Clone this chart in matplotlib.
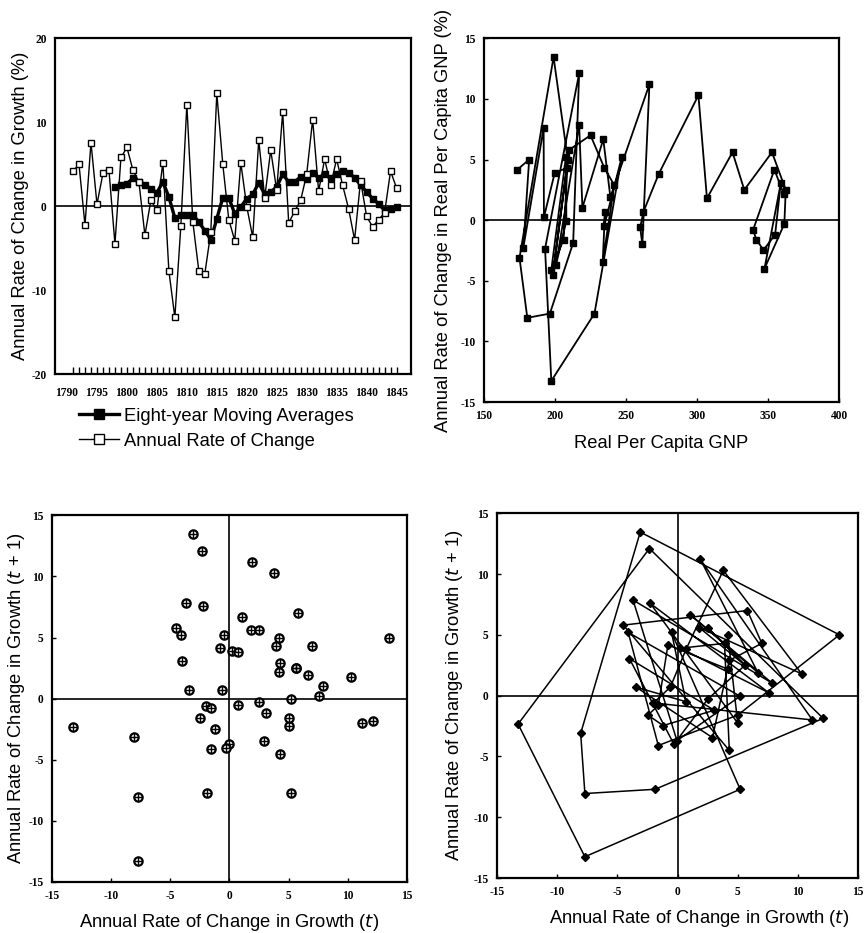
import matplotlib
matplotlib.use("Agg")
import matplotlib.pyplot as plt
from matplotlib.lines import Line2D
from matplotlib.font_manager import FontProperties

# ---------------- data ----------------
years = list(range(1791, 1846))
annual_rate = [4.17, 5.0, -2.26, 7.58, 0.24, 3.9, 4.3, -4.5, 5.8, 7.0,
               4.3, 2.9, -3.45, 0.7, -0.5, 5.2, -7.7, -13.25, -2.34, 12.1,
               -1.87, -7.7, -8.05, -3.1, 13.45, 5.0, -1.6, -4.1, 5.2, -0.05,
               -3.7, 7.86, 1.03, 6.67, 1.9, 11.2, -2.0, -0.6, 0.7, 3.8,
               10.3, 1.8, 5.6, 2.5, 5.6, 2.5, -0.3, -4.0, 3.05, -1.2,
               -2.46, -1.6, -0.8, 4.17, 2.18]

ma_years = list(range(1798, 1846))
moving_avg = [2.3, 2.5, 2.7, 3.3, 2.9, 2.5, 2.1, 1.6, 2.9, 1.1,
              -1.4, -1.1, -1.0, -1.0, -1.9, -2.9, -4.0, -1.5, 1.0, 1.0,
              -0.9, -0.1, 0.9, 1.4, 2.8, 1.4, 1.7, 2.3, 3.8, 2.9,
              2.9, 3.5, 3.2, 3.9, 3.4, 3.8, 3.3, 3.8, 4.2, 4.0,
              3.4, 2.5, 1.7, 0.9, 0.3, -0.5, -0.3, -0.1]

gnp = [173.5, 181.8, 177.7, 192.0, 192.2, 199.8, 208.3, 198.5, 210.0, 225.0,
       234.8, 241.7, 233.6, 235.2, 234.6, 247.0, 227.8, 197.4, 193.0, 217.0,
       212.8, 196.4, 180.5, 175.0, 199.0, 209.0, 206.0, 197.4, 207.7, 208.0,
       200.7, 217.0, 219.3, 234.0, 239.0, 266.5, 261.5, 260.0, 262.3, 273.0,
       301.0, 307.0, 325.0, 333.3, 352.8, 362.5, 361.5, 347.5, 359.0, 355.0,
       346.8, 341.8, 339.5, 354.5, 361.0]

growth_t = annual_rate[:-1]
growth_t1 = annual_rate[1:]

legend_labels = ["Eight-year Moving Averages", "Annual Rate of Change"]

# ---------------- style ----------------
plt.rcParams['font.family'] = ['Liberation Sans', 'DejaVu Sans']
plt.rcParams['axes.unicode_minus'] = False
label_fs = 13.2
tick_fp = FontProperties(family='Liberation Serif', weight='bold', size=8.3)

fig = plt.figure(figsize=(8.68, 9.33), dpi=100)

def style_axes(ax, lw=1.6):
    for s in ax.spines.values():
        s.set_linewidth(lw)
        s.set_color('black')
    ax.tick_params(which='both', direction='in', colors='black')
    ax.tick_params(which='major', length=3, width=1, pad=6)
    for lab in ax.get_xticklabels() + ax.get_yticklabels():
        lab.set_fontproperties(tick_fp)

# ---------------- top-left ----------------
ax1 = fig.add_axes([0.0634, 0.599, 0.410, 0.360])
ax1.axhline(0, color='black', lw=1.2, zorder=1)
ax1.plot(years, annual_rate, color='black', lw=1.0, marker='s', ms=5,
         mfc='white', mec='black', mew=1.0, zorder=3)
ax1.plot(ma_years, moving_avg, color='black', lw=2.4, marker='s', ms=4,
         mfc='black', mec='black', zorder=2)
ax1.set_xlim(1788.0, 1847.4)
ax1.set_ylim(-20, 20)
ax1.xaxis.remove_overlapping_locs = False
ax1.set_xticks(list(range(1790, 1846, 5)))
ax1.set_xticks(years, minor=True)
ax1.set_yticks([-20, -10, 0, 10, 20])
ax1.set_ylabel("Annual Rate of Change in Growth (%)", fontsize=label_fs, labelpad=2)
style_axes(ax1)
ax1.tick_params(axis='x', which='major', length=0, pad=9)
ax1.tick_params(axis='x', which='minor', length=5, width=1)
ax1.tick_params(axis='y', length=0)

handles = [Line2D([], [], color='black', lw=2.4, marker='s', ms=6.5, mfc='black'),
           Line2D([], [], color='black', lw=1.0, marker='s', ms=6.5, mfc='white', mew=1.0)]
fig.legend(handles, legend_labels, loc='upper left', bbox_to_anchor=(0.082, 0.571),
           frameon=False, fontsize=label_fs, handlelength=2.2, handletextpad=0.3,
           labelspacing=0.45, borderaxespad=0)

# ---------------- top-right ----------------
ax2 = fig.add_axes([0.5576, 0.569, 0.409, 0.390])
ax2.axhline(0, color='black', lw=1.2, zorder=1)
ax2.plot(gnp, annual_rate, color='black', lw=1.3, marker='s', ms=4.5,
         mfc='black', mec='black', zorder=2)
ax2.set_xlim(150, 400)
ax2.set_ylim(-15, 15)
ax2.set_xticks([150, 200, 250, 300, 350, 400])
ax2.set_yticks([-15, -10, -5, 0, 5, 10, 15])
ax2.set_xlabel("Real Per Capita GNP", fontsize=label_fs, labelpad=9)
ax2.set_ylabel("Annual Rate of Change in Real Per Capita GNP (%)", fontsize=label_fs, labelpad=6)
style_axes(ax2)

# ---------------- bottom-left ----------------
ax3 = fig.add_axes([0.0599, 0.0547, 0.409, 0.393])
ax3.axhline(0, color='black', lw=1.2, zorder=1)
ax3.axvline(0, color='black', lw=1.2, zorder=1)
ax3.plot(growth_t, growth_t1, ls='none', marker='o', ms=6, mfc='white',
         mec='black', mew=1.6, zorder=2)
ax3.plot(growth_t, growth_t1, ls='none', marker='+', ms=5.5, mec='black',
         mew=1.0, zorder=3)
ax3.set_xlim(-15, 15)
ax3.set_ylim(-15, 15)
ax3.set_xticks([-15, -10, -5, 0, 5, 10, 15])
ax3.set_yticks([-15, -10, -5, 0, 5, 10, 15])
ax3.set_xlabel("Annual Rate of Change in Growth ($\\it{t}$)", fontsize=label_fs, labelpad=7)
ax3.set_ylabel("Annual Rate of Change in Growth ($\\it{t}$ + 1)", fontsize=label_fs, labelpad=1)
style_axes(ax3)

# ---------------- bottom-right ----------------
ax4 = fig.add_axes([0.5726, 0.0589, 0.416, 0.391])
ax4.axhline(0, color='black', lw=1.2, zorder=1)
ax4.axvline(0, color='black', lw=1.2, zorder=1)
ax4.plot(growth_t, growth_t1, color='black', lw=1.1, marker='D', ms=4,
         mfc='black', mec='black', zorder=2)
ax4.set_xlim(-15, 15)
ax4.set_ylim(-15, 15)
ax4.set_xticks([-15, -10, -5, 0, 5, 10, 15])
ax4.set_yticks([-15, -10, -5, 0, 5, 10, 15])
ax4.set_xlabel("Annual Rate of Change in Growth ($\\it{t}$)", fontsize=label_fs, labelpad=7)
ax4.xaxis.label.set_x(0.56)
ax4.set_ylabel("Annual Rate of Change in Growth ($\\it{t}$ + 1)", fontsize=label_fs, labelpad=6)
style_axes(ax4)

fig.savefig("out.png", dpi=100, facecolor='white')
